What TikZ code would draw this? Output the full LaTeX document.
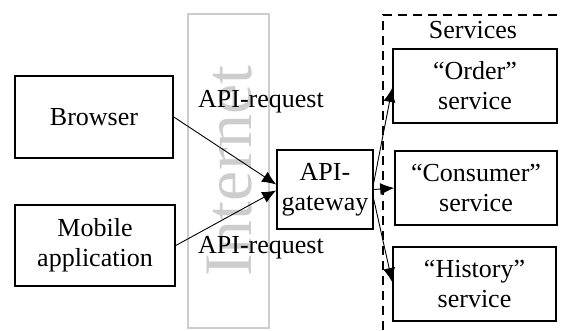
\documentclass[tikz,border=0pt]{standalone}
\usepackage{fontspec}
\setmainfont{Liberation Serif}
\usetikzlibrary{arrows.meta}
\definecolor{netgray}{RGB}{205,205,205}
\tikzset{
  box/.style={draw,line width=1.6pt,align=center,inner sep=0pt,font=\fontsize{26}{30}\selectfont},
  lbl/.style={font=\fontsize{26}{30}\selectfont},
  req/.style={-{Latex[length=14pt,width=12pt]},line width=0.9pt},
}

\begin{document}
\begin{tikzpicture}[x=1pt,y=-1pt]
            \useasboundingbox (0,0) rectangle (563,330);
            \draw [netgray,line width=1.8pt] (188,14) rectangle (269,328);
            \node [netgray,rotate=90,font=\fontsize{68}{72}\selectfont] (inet) at (230,171) {Internet};
            \draw [line width=1.6pt,dash pattern=on 9pt off 6pt] (383,330) |- (563,15);
            \node [lbl] (services) at (473,30) {Services};
            \node [box,minimum width=158pt,minimum height=82pt] (browser) at (94,117) {Browser};
            \node [box,minimum width=160pt,minimum height=81pt] (mobile) at (95,245.5) {Mobile\\application};
            \node [box,minimum width=96pt,minimum height=79pt] (gateway) at (325,189.5) {API-\\gateway};
            \node [box,minimum width=164pt,minimum height=74pt] (order) at (475,86) {``Order''\\service};
            \node [box,minimum width=162pt,minimum height=74pt] (consumer) at (476,188) {``Consumer''\\service};
            \node [box,minimum width=163pt,minimum height=74pt] (history) at (474.5,284) {``History''\\service};
            \node [lbl] (reqtop) at (261,102) {API-request};
            \node [lbl] (reqbot) at (261,248) {API-request};
            \draw [req] (browser.east) -- ([yshift=5pt]gateway.west);
            \draw [req] (mobile.east) -- ([yshift=-1pt]gateway.west);
            \draw [req] ([yshift=7pt]gateway.east) -- ([yshift=-2pt]order.west);
            \draw [req] (gateway.east) -- (consumer.west);
            \draw [req] ([yshift=-10pt]gateway.east) -- ([yshift=2pt]history.west);
        \end{tikzpicture}
\end{document}
